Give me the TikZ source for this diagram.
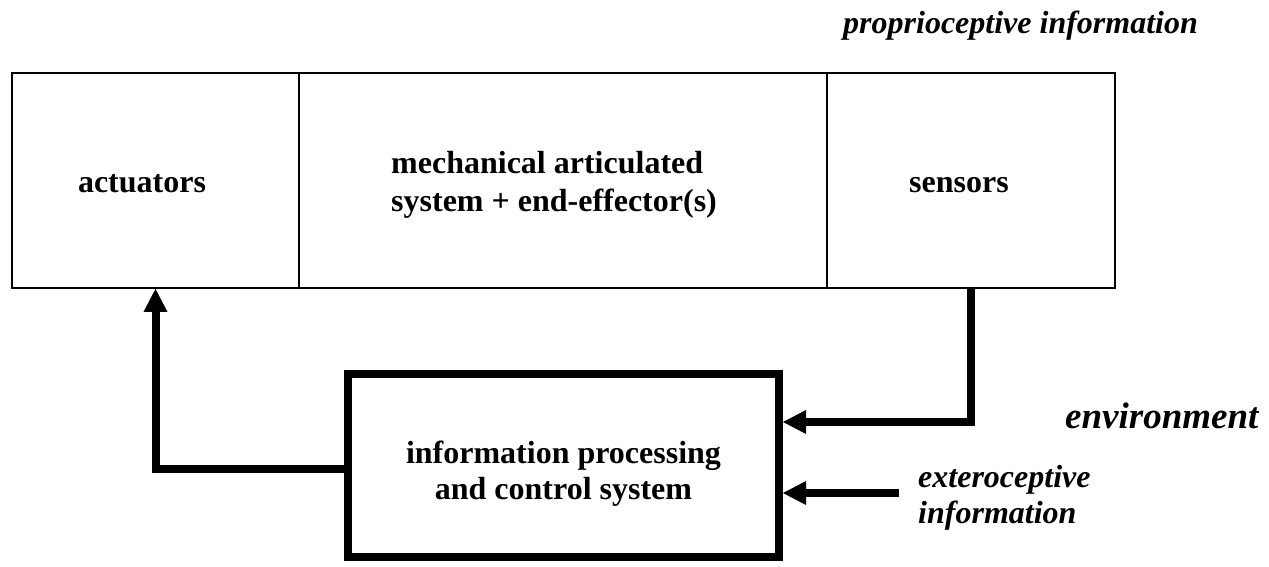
\documentclass[tikz,border=0pt]{standalone}
\usepackage{fontspec}
\setmainfont{Liberation Serif}
\usetikzlibrary{arrows.meta}
\begin{document}
\begin{tikzpicture}[x=1pt,y=-1pt,
  topbox/.style={draw, line width=1.8pt, inner sep=0pt, minimum height=215pt},
  ctrlbox/.style={draw, line width=8pt, inner sep=0pt, minimum width=431.5pt, minimum height=183pt},
  boldtxt/.style={font=\fontsize{32}{38}\selectfont\bfseries, inner sep=0pt},
  itxt/.style={font=\fontsize{32}{36}\selectfont\bfseries\itshape, inner sep=0pt},
  thickarrow/.style={line width=8pt, -{Triangle[width=24pt,length=23pt,line width=0pt]}}]
\useasboundingbox (0,0) rectangle (1269,566);
% boxes
\node[topbox, minimum width=287pt] (act) at (155.5,180.5) {};
\node[topbox, minimum width=528pt] (mech) at (563,180.5) {};
\node[topbox, minimum width=288pt] (sens) at (971,180.5) {};
\node[ctrlbox] (ctrl) at (563.25,465) {};
% texts (multi-line nodes: base anchor = last line)
\node[boldtxt, anchor=base] (actl) at (142,192) {actuators};
\node[boldtxt, anchor=base west, align=left] (mechl) at (391,211) {mechanical articulated\\system + end-effector(s)};
\node[boldtxt, anchor=base] (sensl) at (959,192) {sensors};
\node[boldtxt, anchor=base, align=center, font=\fontsize{32}{36}\selectfont\bfseries] (ctrll) at (563.5,499) {information processing\\and control system};
\node[itxt, anchor=base west] (prop) at (843,33) {proprioceptive information};
\node[itxt, anchor=base west, font=\fontsize{37}{44}\selectfont\bfseries\itshape] (env) at (1065,428) {environment};
\node[itxt, anchor=base west, align=left] (ext) at (918,523) {exteroceptive\\information};
% connectors
\coordinate (extin) at (899,493);
\draw[thickarrow] ([yshift=-4pt]ctrl.west) -| (act.south);
\draw[thickarrow] (sens.south) |- ([yshift=43pt]ctrl.east);
\draw[thickarrow] (extin) -- (extin -| ctrl.east);
\end{tikzpicture}
\end{document}
